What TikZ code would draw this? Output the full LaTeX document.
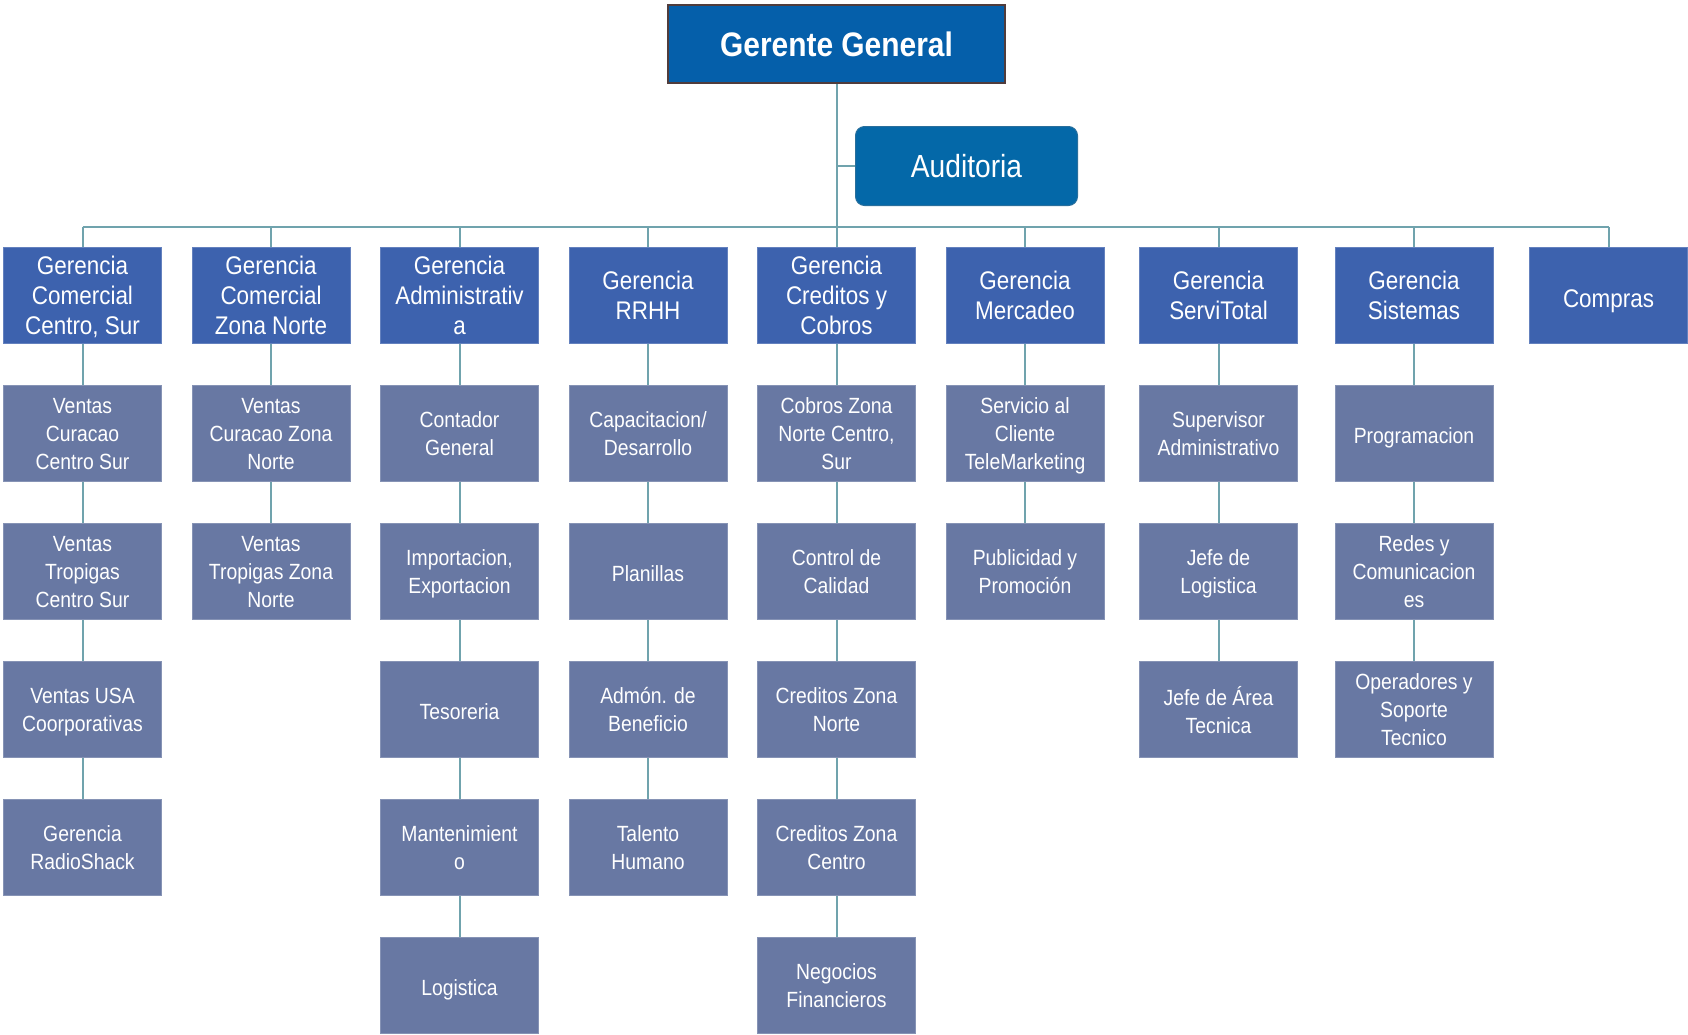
\documentclass[tikz,border=0pt]{standalone}
\usepackage{fontspec}
\setmainfont{Liberation Sans}[FakeStretch=0.88]
\usetikzlibrary{positioning}
\definecolor{Top}{RGB}{5, 95, 170}
\definecolor{TopEdge}{RGB}{80, 60, 60}
\definecolor{Audit}{RGB}{4, 104, 168}
\definecolor{Head}{RGB}{61, 98, 174}
\definecolor{Unit}{RGB}{104, 120, 163}
\definecolor{Link}{RGB}{112, 163, 173}

\tikzset{
  topbox/.style={draw=TopEdge, line width=2pt, fill=Top, text=white, minimum width=337pt, minimum height=78pt, inner sep=0pt, font=\fontsize{34}{40}\selectfont\bfseries},
  auditbox/.style={draw=Audit!70!gray, line width=1pt, fill=Audit, text=white, rounded corners=9pt, minimum width=222pt, minimum height=79pt, inner sep=0pt, font=\fontsize{32}{38}\selectfont},
  headbox/.style={draw=Head!80!white, line width=1pt, fill=Head, text=white, minimum width=158pt, minimum height=96pt, inner sep=0pt, align=center, font=\fontsize{25.5}{30}\selectfont, text depth=-8.5pt, execute at begin node={\rule{0pt}{24pt}}},
  unitbox/.style={draw=Unit!80!white, line width=1pt, fill=Unit, text=white, minimum width=158pt, minimum height=96pt, inner sep=0pt, align=center, font=\fontsize{22}{28}\selectfont, text depth=-5pt, execute at begin node={\rule{0pt}{19.5pt}}},
  oneline/.style={text depth=0pt},
  link/.style={draw=Link, line width=2pt}
}

\begin{document}
\begin{tikzpicture}[x=1pt, y=-1pt]
    \useasboundingbox (0,0) rectangle (1688,1034);

    % Top of the chart
    \node[topbox] (gg) at (836.5,44) {Gerente General};
    \node[auditbox] (aud) at (966.5,166) {Auditoria};
    \coordinate (bus) at (836.5,227);
    \coordinate (busW) at (82.5,227);
    \coordinate (busE) at (1608.5,227);

    % Gerencias
    \node[headbox] (g1) at (82.5,295.5) {Gerencia\\Comercial\\Centro, Sur};
    \node[headbox] (g2) at (271,295.5) {Gerencia\\Comercial\\Zona Norte};
    \node[headbox] (g3) at (459.5,295.5) {Gerencia\\Administrativ\\a};
    \node[headbox] (g4) at (648,295.5) {Gerencia\\RRHH};
    \node[headbox] (g5) at (836.5,295.5) {Gerencia\\Creditos y\\Cobros};
    \node[headbox] (g6) at (1025,295.5) {Gerencia\\Mercadeo};
    \node[headbox] (g7) at (1218.5,295.5) {Gerencia\\ServiTotal};
    \node[headbox] (g8) at (1414,295.5) {Gerencia\\Sistemas};
    \node[headbox, oneline] (g9) at (1608.5,295.5) {Compras};

    % Comercial Centro, Sur
    \node[unitbox] (c1a) at (82.5,433.5) {Ventas\\Curacao\\Centro Sur};
    \node[unitbox] (c1b) at (82.5,571.5) {Ventas\\Tropigas\\Centro Sur};
    \node[unitbox] (c1c) at (82.5,709.5) {Ventas USA\\Coorporativas};
    \node[unitbox] (c1d) at (82.5,847.5) {Gerencia\\RadioShack};

    % Comercial Zona Norte
    \node[unitbox] (c2a) at (271,433.5) {Ventas\\Curacao Zona\\Norte};
    \node[unitbox] (c2b) at (271,571.5) {Ventas\\Tropigas Zona\\Norte};

    % Administrativa
    \node[unitbox] (c3a) at (459.5,433.5) {Contador\\General};
    \node[unitbox] (c3b) at (459.5,571.5) {Importacion,\\Exportacion};
    \node[unitbox, oneline] (c3c) at (459.5,709.5) {Tesoreria};
    \node[unitbox] (c3d) at (459.5,847.5) {Mantenimient\\o};
    \node[unitbox, oneline] (c3e) at (459.5,985.5) {Logistica};

    % RRHH
    \node[unitbox] (c4a) at (648,433.5) {Capacitacion/\\Desarrollo};
    \node[unitbox, oneline] (c4b) at (648,571.5) {Planillas};
    \node[unitbox] (c4c) at (648,709.5) {Admón. de\\Beneficio};
    \node[unitbox] (c4d) at (648,847.5) {Talento\\Humano};

    % Creditos y Cobros
    \node[unitbox] (c5a) at (836.5,433.5) {Cobros Zona\\Norte Centro,\\Sur};
    \node[unitbox] (c5b) at (836.5,571.5) {Control de\\Calidad};
    \node[unitbox] (c5c) at (836.5,709.5) {Creditos Zona\\Norte};
    \node[unitbox] (c5d) at (836.5,847.5) {Creditos Zona\\Centro};
    \node[unitbox] (c5e) at (836.5,985.5) {Negocios\\Financieros};

    % Mercadeo
    \node[unitbox] (c6a) at (1025,433.5) {Servicio al\\Cliente\\TeleMarketing};
    \node[unitbox] (c6b) at (1025,571.5) {Publicidad y\\Promoción};

    % ServiTotal
    \node[unitbox] (c7a) at (1218.5,433.5) {Supervisor\\Administrativo};
    \node[unitbox] (c7b) at (1218.5,571.5) {Jefe de\\Logistica};
    \node[unitbox] (c7c) at (1218.5,709.5) {Jefe de Área\\Tecnica};

    % Sistemas
    \node[unitbox, oneline] (c8a) at (1414,433.5) {Programacion};
    \node[unitbox] (c8b) at (1414,571.5) {Redes y\\Comunicacion\\es};
    \node[unitbox] (c8c) at (1414,709.5) {Operadores y\\Soporte\\Tecnico};

    % Connectors
    \draw[link] (gg.south) -- (bus);
    \draw[link] (gg.south |- aud.west) -- (aud.west);
    \draw[link] (busW) -- (busE);
    \foreach \g in {g1,g2,g3,g4,g5,g6,g7,g8,g9}
        \draw[link] (\g.north |- bus) -- (\g.north);

    \draw[link] (g1) -- (c1a) (c1a) -- (c1b) (c1b) -- (c1c) (c1c) -- (c1d);
    \draw[link] (g2) -- (c2a) (c2a) -- (c2b);
    \draw[link] (g3) -- (c3a) (c3a) -- (c3b) (c3b) -- (c3c) (c3c) -- (c3d) (c3d) -- (c3e);
    \draw[link] (g4) -- (c4a) (c4a) -- (c4b) (c4b) -- (c4c) (c4c) -- (c4d);
    \draw[link] (g5) -- (c5a) (c5a) -- (c5b) (c5b) -- (c5c) (c5c) -- (c5d) (c5d) -- (c5e);
    \draw[link] (g6) -- (c6a) (c6a) -- (c6b);
    \draw[link] (g7) -- (c7a) (c7a) -- (c7b) (c7b) -- (c7c);
    \draw[link] (g8) -- (c8a) (c8a) -- (c8b) (c8b) -- (c8c);
\end{tikzpicture}
\end{document}
